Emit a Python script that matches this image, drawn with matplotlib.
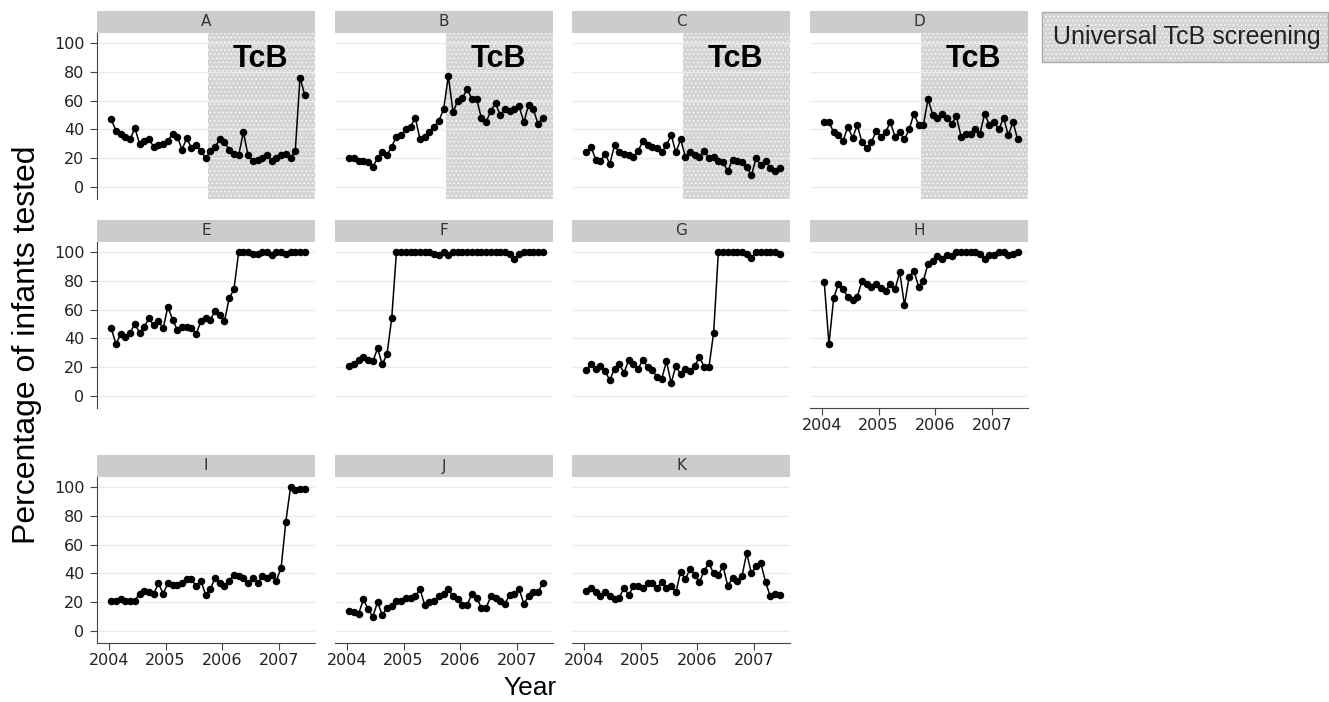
import numpy as np
import matplotlib.pyplot as plt
from matplotlib.patches import Rectangle

# figure size in pixels
W, H = 1329, 702

# monthly data, Jan 2004 .. Jun 2007
n_months = 42
months = 2004 + (np.arange(n_months) + 0.5) / 12

panel_names = ['A', 'B', 'C', 'D', 'E', 'F', 'G', 'H', 'I', 'J', 'K']

vals_a = [47, 39, 37, 35, 33, 41, 30, 32, 33, 28, 29, 30, 32, 37, 35, 26, 34, 27, 29, 25, 20,
          25, 28, 33, 31, 26, 23, 22, 38, 22, 18, 19, 20, 22, 18, 20, 22, 23, 20, 25, 76, 64]
vals_b = [20, 20, 18, 18, 17, 14, 20, 24, 22, 28, 35, 36, 40, 42, 48, 33, 35, 38, 42, 46, 54,
          77, 52, 60, 62, 68, 61, 61, 48, 45, 53, 58, 50, 54, 53, 54, 56, 45, 57, 54, 44, 48]
vals_c = [24, 28, 19, 18, 23, 16, 29, 24, 23, 22, 21, 25, 32, 29, 28, 27, 24, 29, 36, 24, 33,
          21, 24, 22, 21, 25, 20, 21, 18, 17, 11, 19, 18, 17, 14, 8, 20, 15, 18, 13, 11, 13]
vals_d = [45, 45, 38, 36, 32, 42, 34, 43, 31, 27, 31, 39, 35, 38, 45, 35, 38, 33, 40, 51, 43,
          43, 61, 50, 48, 51, 48, 44, 49, 35, 37, 37, 40, 37, 51, 43, 45, 40, 48, 36, 45, 33]
vals_e = [47, 36, 43, 41, 44, 50, 44, 48, 54, 49, 52, 47, 62, 53, 46, 48, 48, 47, 43, 52, 54,
          53, 59, 56, 52, 68, 74, 100, 100, 100, 99, 99, 100, 100, 98, 100, 100, 99, 100, 100, 100, 100]
vals_f = [21, 22, 25, 27, 25, 24, 33, 22, 29, 54, 100, 100, 100, 100, 100, 100, 100, 100, 99, 98, 100,
          98, 100, 100, 100, 100, 100, 100, 100, 100, 100, 100, 100, 100, 99, 95, 99, 100, 100, 100, 100, 100]
vals_g = [18, 22, 19, 21, 17, 11, 19, 22, 16, 25, 22, 19, 25, 20, 18, 13, 12, 24, 9, 21, 15,
          19, 17, 21, 27, 20, 20, 44, 100, 100, 100, 100, 100, 100, 99, 96, 100, 100, 100, 100, 100, 99]
vals_h = [79, 36, 68, 78, 74, 69, 67, 69, 80, 78, 76, 78, 75, 73, 78, 74, 86, 63, 83, 87, 76,
          80, 92, 94, 97, 95, 98, 97, 100, 100, 100, 100, 100, 99, 95, 98, 98, 100, 100, 98, 99, 100]
vals_i = [21, 21, 22, 21, 21, 21, 26, 28, 27, 26, 33, 26, 33, 32, 32, 33, 36, 36, 31, 35, 25,
          29, 37, 33, 31, 35, 39, 38, 37, 33, 37, 33, 38, 37, 39, 35, 44, 76, 100, 98, 99, 99]
vals_j = [14, 13, 12, 22, 15, 10, 20, 11, 16, 17, 21, 21, 23, 23, 24, 29, 18, 20, 21, 24, 26,
          29, 24, 22, 18, 18, 26, 23, 16, 16, 24, 23, 21, 19, 25, 26, 29, 19, 24, 27, 27, 33]
vals_k = [28, 30, 27, 24, 27, 24, 22, 23, 30, 25, 31, 31, 30, 33, 33, 30, 34, 30, 31, 27, 41,
          36, 43, 39, 34, 42, 47, 40, 39, 45, 31, 37, 35, 38, 54, 40, 45, 47, 34, 24, 26, 25]

all_vals = [vals_a, vals_b, vals_c, vals_d, vals_e, vals_f, vals_g, vals_h, vals_i, vals_j, vals_k]

tcb_panels = ['A', 'B', 'C', 'D']
tcb_start = 2005.75
year_ticks = [2004, 2005, 2006, 2007]
pct_ticks = [0, 20, 40, 60, 80, 100]

plt.rcParams['font.family'] = ['DejaVu Sans']
plt.rcParams['hatch.linewidth'] = 0.5

fig = plt.figure(figsize=(W / 100, H / 100), dpi=100)
fig.patch.set_facecolor('white')

col_left = [97, 335, 572, 810]
row_top = [33, 242, 477]
panel_w, panel_h, strip_h = 218, 166, 22
shade_col = '#d4d4d4'
shade_hatch = '....'


def px_axes(left, top, w, h):
    return fig.add_axes([left / W, 1 - (top + h) / H, w / W, h / H])


for k, (name, vals) in enumerate(zip(panel_names, all_vals)):
    row, col = divmod(k, 4)
    left, top = col_left[col], row_top[row]
    ax = px_axes(left, top, panel_w, panel_h)
    ax.set_facecolor('white')

    # strip on top of the panel
    fig.patches.append(Rectangle((left / W, 1 - top / H), panel_w / W, strip_h / H,
                                 transform=fig.transFigure, facecolor='#cccccc',
                                 edgecolor='none', zorder=0))
    fig.text((left + panel_w / 2) / W, 1 - (top - strip_h / 2) / H, name,
             ha='center', va='center', fontsize=11, color='#333333')

    if name in tcb_panels:
        ax.axvspan(tcb_start, 2008, facecolor=shade_col, edgecolor='white',
                   hatch=shade_hatch, lw=0, zorder=0)
        ax.text(2006.68, 89, 'TcB', ha='center', va='center', fontsize=22,
                fontweight='bold', family='Liberation Sans', zorder=4)

    for yv in pct_ticks:
        ax.axhline(yv, color='#ececec', lw=1, zorder=1)

    ax.plot(months, vals, color='black', lw=1.1, marker='o', ms=4.4, zorder=3)

    ax.set_xlim(2003.79, 2007.64)
    ax.set_ylim(-8.4, 107)
    for s in ax.spines.values():
        s.set_visible(False)

    show_left = col == 0
    show_bottom = name in ['H', 'I', 'J', 'K']
    ax.set_yticks(pct_ticks)
    ax.set_xticks(year_ticks)
    if show_left:
        ax.spines['left'].set_visible(True)
        ax.spines['left'].set_color('#444444')
        ax.tick_params(axis='y', length=5, color='#444444', labelsize=11.5, labelcolor='#222222', pad=4)
    else:
        ax.tick_params(axis='y', left=False, labelleft=False)
    if show_bottom:
        ax.spines['bottom'].set_visible(True)
        ax.spines['bottom'].set_color('#444444')
        ax.tick_params(axis='x', length=5, color='#444444', labelsize=11.5, labelcolor='#222222', pad=2)
    else:
        ax.tick_params(axis='x', bottom=False, labelbottom=False)

# legend box
fig.patches.append(Rectangle((1042 / W, 1 - 62 / H), 286 / W, 50 / H, transform=fig.transFigure,
                             facecolor=shade_col, edgecolor='white', hatch=shade_hatch, lw=0, zorder=0))
fig.patches.append(Rectangle((1042 / W, 1 - 62 / H), 286 / W, 50 / H, transform=fig.transFigure,
                             facecolor='none', edgecolor='#aaaaaa', lw=1, zorder=1))
fig.text(1053 / W, 1 - 37 / H, 'Universal TcB screening', ha='left', va='center',
         fontsize=18, family='Liberation Sans', color='#222222')

fig.text(27 / W, 1 - 345 / H, 'Percentage of infants tested', rotation=90,
         ha='center', va='center', fontsize=23, family='Liberation Sans')
fig.text(530 / W, 1 - 688 / H, 'Year', ha='center', va='center',
         fontsize=19, family='Liberation Sans')

fig.savefig('out.png', dpi=100)
